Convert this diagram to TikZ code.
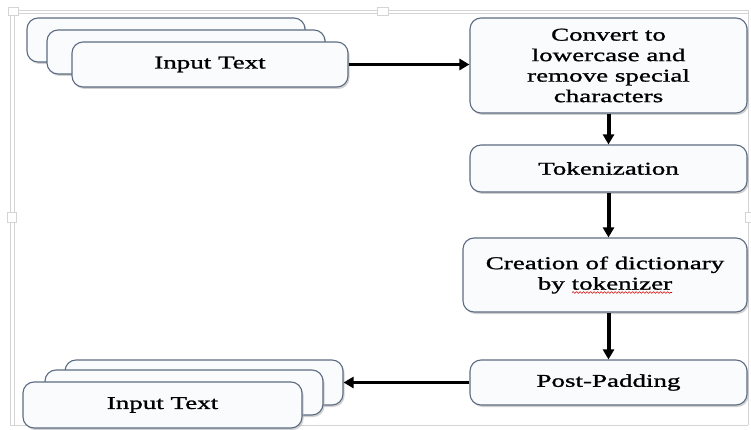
\documentclass[tikz,border=0pt]{standalone}
\usepackage{fontspec}
\setmainfont{Liberation Serif}[FakeStretch=1.5,FakeBold=1.2]
\usetikzlibrary{arrows.meta,shadows,decorations.pathmorphing}
\definecolor{boxline}{HTML}{5D6C82}
\definecolor{boxfill}{HTML}{F9FBFD}
\definecolor{frameline}{HTML}{D4D4D4}
\begin{document}
\begin{tikzpicture}[x=1pt,y=-1pt,
  procbox/.style={draw=boxline,line width=1.1pt,fill=boxfill,rounded corners=11pt,
    align=center,font=\fontsize{18}{20.5}\selectfont,inner sep=2pt,
    drop shadow={shadow xshift=1.5pt,shadow yshift=-2pt,fill=gray!60,opacity=0.6}},
  flow/.style={-{Triangle[length=10pt,width=11pt]},line width=3.2pt,black},
  vflow/.style={flow,line width=4pt},
  handle/.style={draw=frameline,fill=white,line width=0.8pt},
  spellwave/.style={draw=red!85!black,line width=0.6pt,decorate,
    decoration={snake,amplitude=0.8pt,segment length=3.5pt}}]
\useasboundingbox (0,0) rectangle (751,430);
% frame
\draw[frameline,line width=0.8pt] (10,10) -- (748,10) (10,13) -- (748,13);
\draw[frameline,line width=0.8pt] (10,10) -- (10,425) (14,13) -- (14,425);
\draw[frameline,line width=0.8pt] (10,425) -- (748,425) (748,10) -- (748,425);
\draw[handle] (8,7) rectangle (18,15);
\draw[handle] (377,7) rectangle (388,15);
\draw[handle] (7,212) rectangle (16,222);
\draw[handle] (745,212) rectangle (751,222);
% top-left stack
\node[procbox,minimum width=278pt,minimum height=44pt] (tlA) at (166,40) {};
\node[procbox,minimum width=278pt,minimum height=44pt] (tlB) at (186,52) {};
\node[procbox,minimum width=276pt,minimum height=45pt] (tlC) at (210,64.5) {Input Text};
% right column
\node[procbox,minimum width=277pt,minimum height=95pt] (conv) at (608.5,65.5)
  {Convert to\\lowercase and\\remove special\\characters};
\node[procbox,minimum width=277pt,minimum height=47pt] (tok) at (608.5,168.5) {Tokenization};
\node[procbox,minimum width=284pt,minimum height=74pt] (dict) at (605,275)
  {Creation of dictionary\\by tokenizer};
\node[procbox,minimum width=277pt,minimum height=45pt] (pad) at (608.5,382.5) {Post-Padding};
% spell-check underline
\coordinate (waveA) at ([xshift=-33pt,yshift=-17.5pt]dict.center);
\coordinate (waveB) at ([xshift=67pt,yshift=-17.5pt]dict.center);
\draw[spellwave] (waveA) -- (waveB);
% bottom-left stack
\node[procbox,minimum width=278pt,minimum height=45pt] (blA) at (204,382.5) {};
\node[procbox,minimum width=278pt,minimum height=45pt] (blB) at (184,392.5) {};
\node[procbox,minimum width=279pt,minimum height=46pt] (blC) at (162.5,405) {Input Text};
% connectors
\draw[flow] (tlC.east) -- (conv.west |- tlC.east);
\draw[vflow] (conv.south -| tok.north) -- (tok.north);
\draw[vflow] (tok.south) -- (tok.south |- dict.north);
\draw[vflow] (dict.south -| pad.north) -- (pad.north);
\draw[flow] (pad.west) -- (blA.east);
\end{tikzpicture}
\end{document}
